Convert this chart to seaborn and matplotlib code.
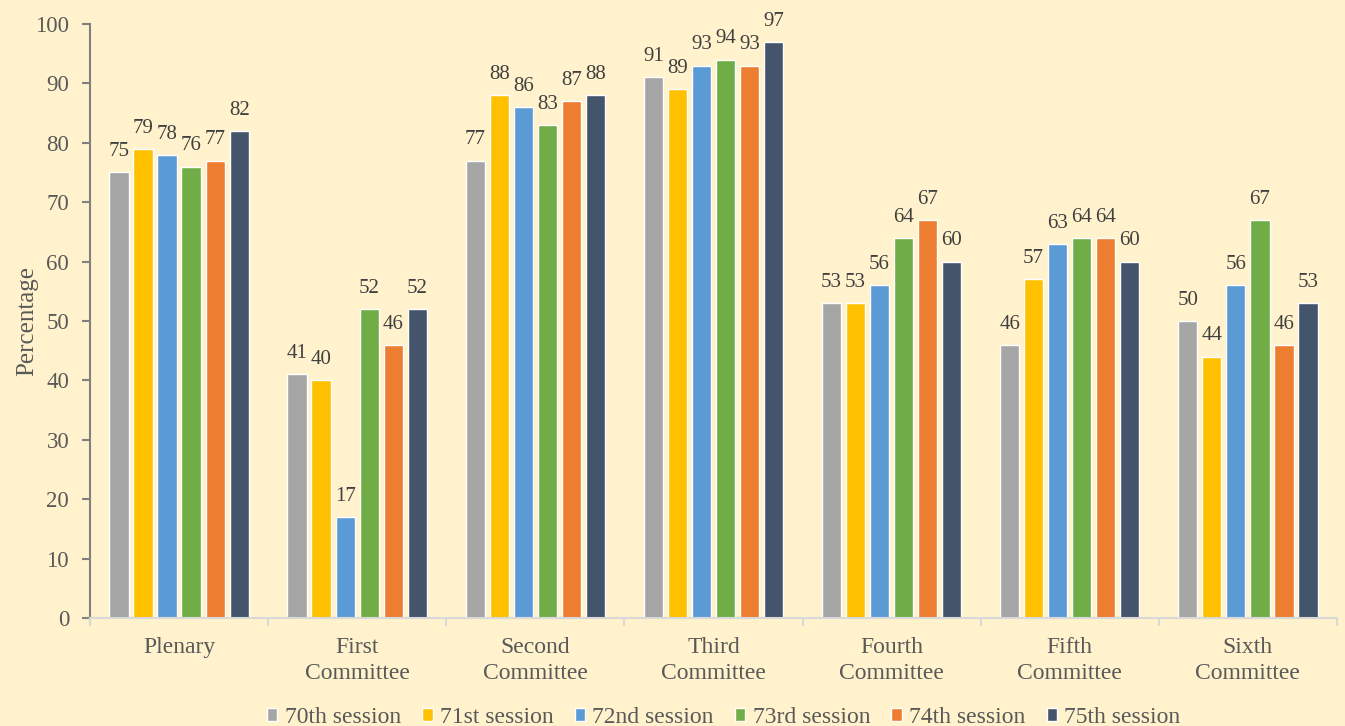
import matplotlib
matplotlib.use("Agg")
import matplotlib.pyplot as plt
import seaborn as sns
import pandas as pd
from matplotlib.ticker import FixedLocator

categories = ["Plenary", "First\nCommittee", "Second\nCommittee", "Third\nCommittee",
              "Fourth\nCommittee", "Fifth\nCommittee", "Sixth\nCommittee"]
sessions = ["70th session", "71st session", "72nd session", "73rd session", "74th session", "75th session"]
s70 = [75, 41, 77, 91, 53, 46, 50]
s71 = [79, 40, 88, 89, 53, 57, 44]
s72 = [78, 17, 86, 93, 56, 63, 56]
s73 = [76, 52, 83, 94, 64, 64, 67]
s74 = [77, 46, 87, 93, 67, 64, 46]
s75 = [82, 52, 88, 97, 60, 60, 53]
colors = ["#A5A5A5", "#FFC000", "#5B9BD5", "#70AD47", "#ED7D31", "#44546A"]

rows = []
for s, vals in zip(sessions, [s70, s71, s72, s73, s74, s75]):
    for c, v in zip(categories, vals):
        rows.append({"Category": c, "Session": s, "Value": v})
df = pd.DataFrame(rows)

sns.set_theme(style="white")
plt.rcParams['font.family'] = ['Liberation Serif', 'DejaVu Serif']
bg = "#FFF2CC"
txt = "#595959"

fig = plt.figure(figsize=(13.45, 7.26), dpi=100, facecolor=bg)
ax = fig.add_axes([0.0669, 0.1488, 0.9271, 0.8182])
ax.set_facecolor(bg)

sns.barplot(data=df, x="Category", y="Value", hue="Session", palette=colors,
            width=0.81, gap=0.2, ax=ax, legend=True, saturation=1)

for cont in ax.containers:
    ax.bar_label(cont, padding=8, fontsize=15, color="#404040")

ax.set_ylim(0, 100)
ax.set_xlim(-0.5, 6.5)
ax.set_yticks(range(0, 101, 10))
ax.tick_params(axis="y", labelsize=16.5, colors=txt, length=6, width=1.5, direction="out", left=True, pad=9)
ax.tick_params(axis="y", color="#808080")
ax.tick_params(axis="x", labelsize=17, colors=txt, length=0, pad=14)
for lbl in ax.get_xticklabels():
    lbl.set_linespacing(1.3)
ax.xaxis.set_minor_locator(FixedLocator([i - 0.5 for i in range(8)]))
ax.tick_params(axis="x", which="minor", length=6, width=1.5, color="#D9D9D9", direction="out", bottom=True)
ax.set_xlabel("")
ax.set_ylabel("Percentage", fontsize=18, color=txt, labelpad=-2)

for sp in ["top", "right"]:
    ax.spines[sp].set_visible(False)
ax.spines["left"].set_color("#808080")
ax.spines["left"].set_linewidth(1.5)
ax.spines["bottom"].set_color("#D9D9D9")
ax.spines["bottom"].set_linewidth(1.5)

handles, labels = ax.get_legend_handles_labels()
ax.legend_.remove()
fig.legend(handles, labels, loc="lower center", bbox_to_anchor=(0.538, -0.032), ncol=6,
           frameon=False, fontsize=17, handlelength=0.45, handleheight=0.45,
           handletextpad=0.3, columnspacing=0.9, labelcolor=txt)

fig.savefig("out.png", dpi=100, facecolor=bg)
